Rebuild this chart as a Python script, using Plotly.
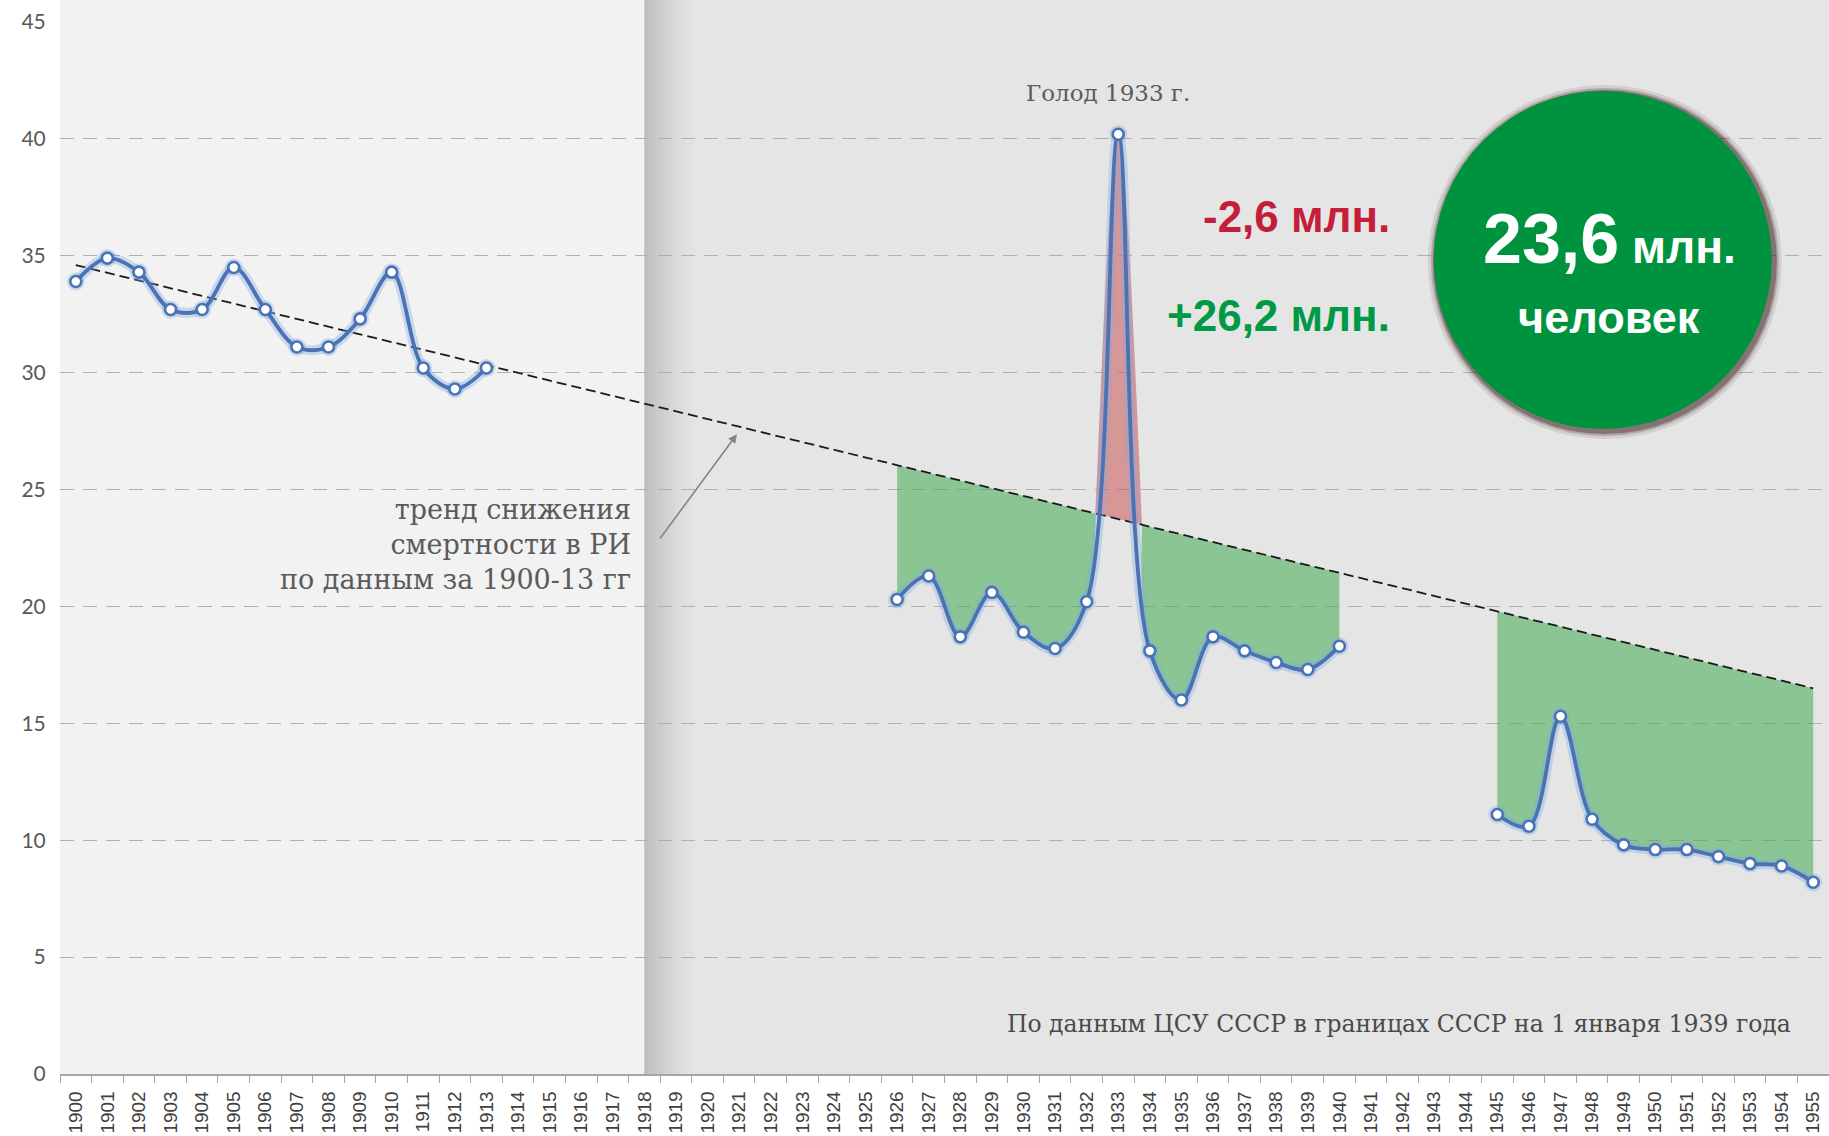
import plotly.graph_objects as go

# ---------------- data ----------------
axis_years = list(range(1900, 1956))

ri_years = [1900, 1901, 1902, 1903, 1904, 1905, 1906, 1907, 1908, 1909, 1910, 1911, 1912, 1913]
ri_rates = [33.9, 34.9, 34.3, 32.7, 32.7, 34.5, 32.7, 31.1, 31.1, 32.3, 34.3, 30.2, 29.3, 30.2]

ussr_years = [1926, 1927, 1928, 1929, 1930, 1931, 1932, 1933, 1934, 1935, 1936, 1937, 1938, 1939, 1940]
ussr_rates = [20.3, 21.3, 18.7, 20.6, 18.9, 18.2, 20.2, 40.2, 18.1, 16.0, 18.7, 18.1, 17.6, 17.3, 18.3]

post_years = [1945, 1946, 1947, 1948, 1949, 1950, 1951, 1952, 1953, 1954, 1955]
post_rates = [11.1, 10.6, 15.3, 10.9, 9.8, 9.6, 9.6, 9.3, 9.0, 8.9, 8.2]

trend_years = [1900, 1955]
trend_rates = [34.6, 16.5]

famine_cross_years = [1932.28, 1933.75]   # where the 1933 spike crosses the trend
famine_year = 1933
empire_end_year = 1918

y_ticks = [0, 5, 10, 15, 20, 25, 30, 35, 40, 45]

# ---------------- helpers ----------------
def trend_at(x):
    (x0, x1), (y0, y1) = trend_years, trend_rates
    return y0 + (y1 - y0) * (x - x0) / (x1 - x0)

GREEN_FILL = "rgba(70,172,84,0.56)"
RED_FILL = "rgba(206,88,88,0.55)"
BLUE = "#4a73b3"

fig = go.Figure()

def add_band(xs, ys, color):
    fig.add_trace(go.Scatter(x=[xs[0], xs[-1]], y=[trend_at(xs[0]), trend_at(xs[-1])],
                             mode="lines", line=dict(width=0), hoverinfo="skip", showlegend=False))
    fig.add_trace(go.Scatter(x=xs, y=ys, mode="lines",
                             line=dict(width=0, shape="spline", smoothing=1),
                             fill="tonexty", fillcolor=color, hoverinfo="skip", showlegend=False))

i_f = ussr_years.index(famine_year)
c1, c2 = famine_cross_years
add_band(ussr_years[:i_f] + [c1], ussr_rates[:i_f] + [trend_at(c1)], GREEN_FILL)
add_band([c1, famine_year, c2], [trend_at(c1), ussr_rates[i_f], trend_at(c2)], RED_FILL)
add_band([c2] + ussr_years[i_f + 1:], [trend_at(c2)] + ussr_rates[i_f + 1:], GREEN_FILL)
add_band(post_years, post_rates, GREEN_FILL)

# trend line
fig.add_trace(go.Scatter(x=trend_years, y=trend_rates, mode="lines",
                         line=dict(color="#1a1a1a", width=1.8, dash="10px,5px"),
                         hoverinfo="skip", showlegend=False))

line_x = ri_years + [None] + ussr_years + [None] + post_years
line_y = ri_rates + [None] + ussr_rates + [None] + post_rates

# glow
fig.add_trace(go.Scatter(x=line_x, y=line_y, mode="lines+markers",
                         line=dict(color="rgba(125,170,230,0.35)", width=10, shape="spline", smoothing=1),
                         marker=dict(size=18, color="rgba(125,170,230,0.35)"),
                         connectgaps=False, hoverinfo="skip", showlegend=False))
# main line
fig.add_trace(go.Scatter(x=line_x, y=line_y, mode="lines+markers",
                         line=dict(color=BLUE, width=3.8, shape="spline", smoothing=1),
                         marker=dict(size=11, color="white", line=dict(color=BLUE, width=2.6)),
                         connectgaps=False, showlegend=False))

# ---------------- background shapes ----------------
top = 1 + 22 / 1052
shapes = [
    dict(type="rect", xref="x", yref="paper", x0=axis_years[0] - 0.5, x1=empire_end_year,
         y0=0, y1=top, fillcolor="#f2f2f2", line=dict(width=0), layer="below"),
    dict(type="rect", xref="x", yref="paper", x0=empire_end_year, x1=axis_years[-1] + 0.5,
         y0=0, y1=top, fillcolor="#e5e5e5", line=dict(width=0), layer="below"),
]
n = 28
w = 1.75
for i in range(n):
    t = i / n
    g = int(round(229 - 42 * (1 - t) ** 1.6))
    shapes.append(dict(type="rect", xref="x", yref="paper",
                       x0=empire_end_year + w * i / n, x1=empire_end_year + w * (i + 1) / n + 0.01,
                       y0=0, y1=top, fillcolor=f"rgb({g},{g},{g})", line=dict(width=0), layer="below"))

# green circle with soft shadow
cx, cy, r = 1948.34, 34.82, 169
for dr, op in [(8, 0.10), (5, 0.2), (3, 0.35)]:
    shapes.append(dict(type="circle", xref="x", yref="y", xsizemode="pixel", ysizemode="pixel",
                       xanchor=cx, yanchor=cy, x0=-r - dr + 2, x1=r + dr + 2, y0=-r - dr - 2, y1=r + dr - 2,
                       fillcolor=f"rgba(50,15,15,{op})", line=dict(width=0), layer="above"))
shapes.append(dict(type="circle", xref="x", yref="y", xsizemode="pixel", ysizemode="pixel",
                   xanchor=cx, yanchor=cy, x0=-r, x1=r, y0=-r, y1=r,
                   fillcolor="#00933f", line=dict(width=0), layer="above"))

BOLD = "Liberation Sans, Arial, sans-serif"
SERIF = "DejaVu Serif, Liberation Serif, serif"

annotations = [
    dict(x=1917.64, y=22.63, xref="x", yref="y", xanchor="right", yanchor="middle", align="right",
         text="тренд снижения<br>смертности в РИ<br>по данным за 1900-13 гг", showarrow=False,
         font=dict(family=SERIF, size=27, color="#5a5a5a")),
    dict(x=1920.93, y=27.37, ax=1918.46, ay=22.84, xref="x", yref="y", axref="x", ayref="y",
         text="", showarrow=True, arrowhead=2, arrowsize=1.1, arrowwidth=1.6, arrowcolor="#858585"),
    dict(x=1932.68, y=41.96, xref="x", yref="y", xanchor="center", yanchor="middle",
         text="Голод 1933 г.", showarrow=False, font=dict(family=SERIF, size=23, color="#5a5a5a")),
    dict(x=1941.66, y=36.70, xref="x", yref="y", xanchor="right", yanchor="middle",
         text="<b>-2,6 млн.</b>", showarrow=False, font=dict(family=BOLD, size=44, color="#c41e3a")),
    dict(x=1941.66, y=32.46, xref="x", yref="y", xanchor="right", yanchor="middle",
         text="<b>+26,2 млн.</b>", showarrow=False, font=dict(family=BOLD, size=44, color="#009a46")),
    dict(x=1948.55, y=35.71, xref="x", yref="y", xanchor="center", yanchor="middle",
         text="<b>23,6</b><b><span style='font-size:46px'> млн.</span></b>", showarrow=False,
         font=dict(family=BOLD, size=70, color="white")),
    dict(x=1948.55, y=32.38, xref="x", yref="y", xanchor="center", yanchor="middle",
         text="<b>человек</b>", showarrow=False, font=dict(family=BOLD, size=45, color="white")),
    dict(x=1954.36, y=2.14, xref="x", yref="y", xanchor="right", yanchor="middle",
         text="По данным ЦСУ СССР в границах СССР на 1 января 1939 года", showarrow=False,
         font=dict(family=SERIF, size=23.5, color="#4a4a4a")),
]

fig.update_layout(
    width=1829, height=1136, autosize=False,
    margin=dict(l=60, r=0, t=22, b=62),
    paper_bgcolor="white", plot_bgcolor="#f2f2f2",
    showlegend=False, shapes=shapes, annotations=annotations,
    xaxis=dict(range=[axis_years[0] - 0.5, axis_years[-1] + 0.5], tickmode="array",
               tickvals=axis_years, ticktext=[str(y) for y in axis_years], tickangle=-90,
               tickfont=dict(family="Liberation Sans, Arial, sans-serif", size=19, color="#404040"),
               ticks="outside", ticklen=8, tickcolor="rgba(0,0,0,0)",
               showgrid=False, zeroline=False, showline=True, linecolor="#a6a6a6", linewidth=1.5,
               minor=dict(tickmode="array",
                          tickvals=[y - 0.5 for y in axis_years] + [axis_years[-1] + 0.5],
                          ticks="outside", ticklen=7, tickcolor="#a6a6a6", tickwidth=1.2, showgrid=False)),
    yaxis=dict(range=[0, 45], tickmode="array", tickvals=y_ticks,
               showgrid=True, gridcolor="#b0b0b0", griddash="14px,9px", gridwidth=1.3,
               zeroline=False, showline=False,
               tickfont=dict(family="Lato, Open Sans, sans-serif", size=21, color="#595959"),
               ticks="outside", ticklen=9, tickcolor="rgba(0,0,0,0)"),
)

fig.write_html("out.html", config={"displayModeBar": False},
               post_script="document.body.style.margin='0';document.body.style.overflow='hidden';")
